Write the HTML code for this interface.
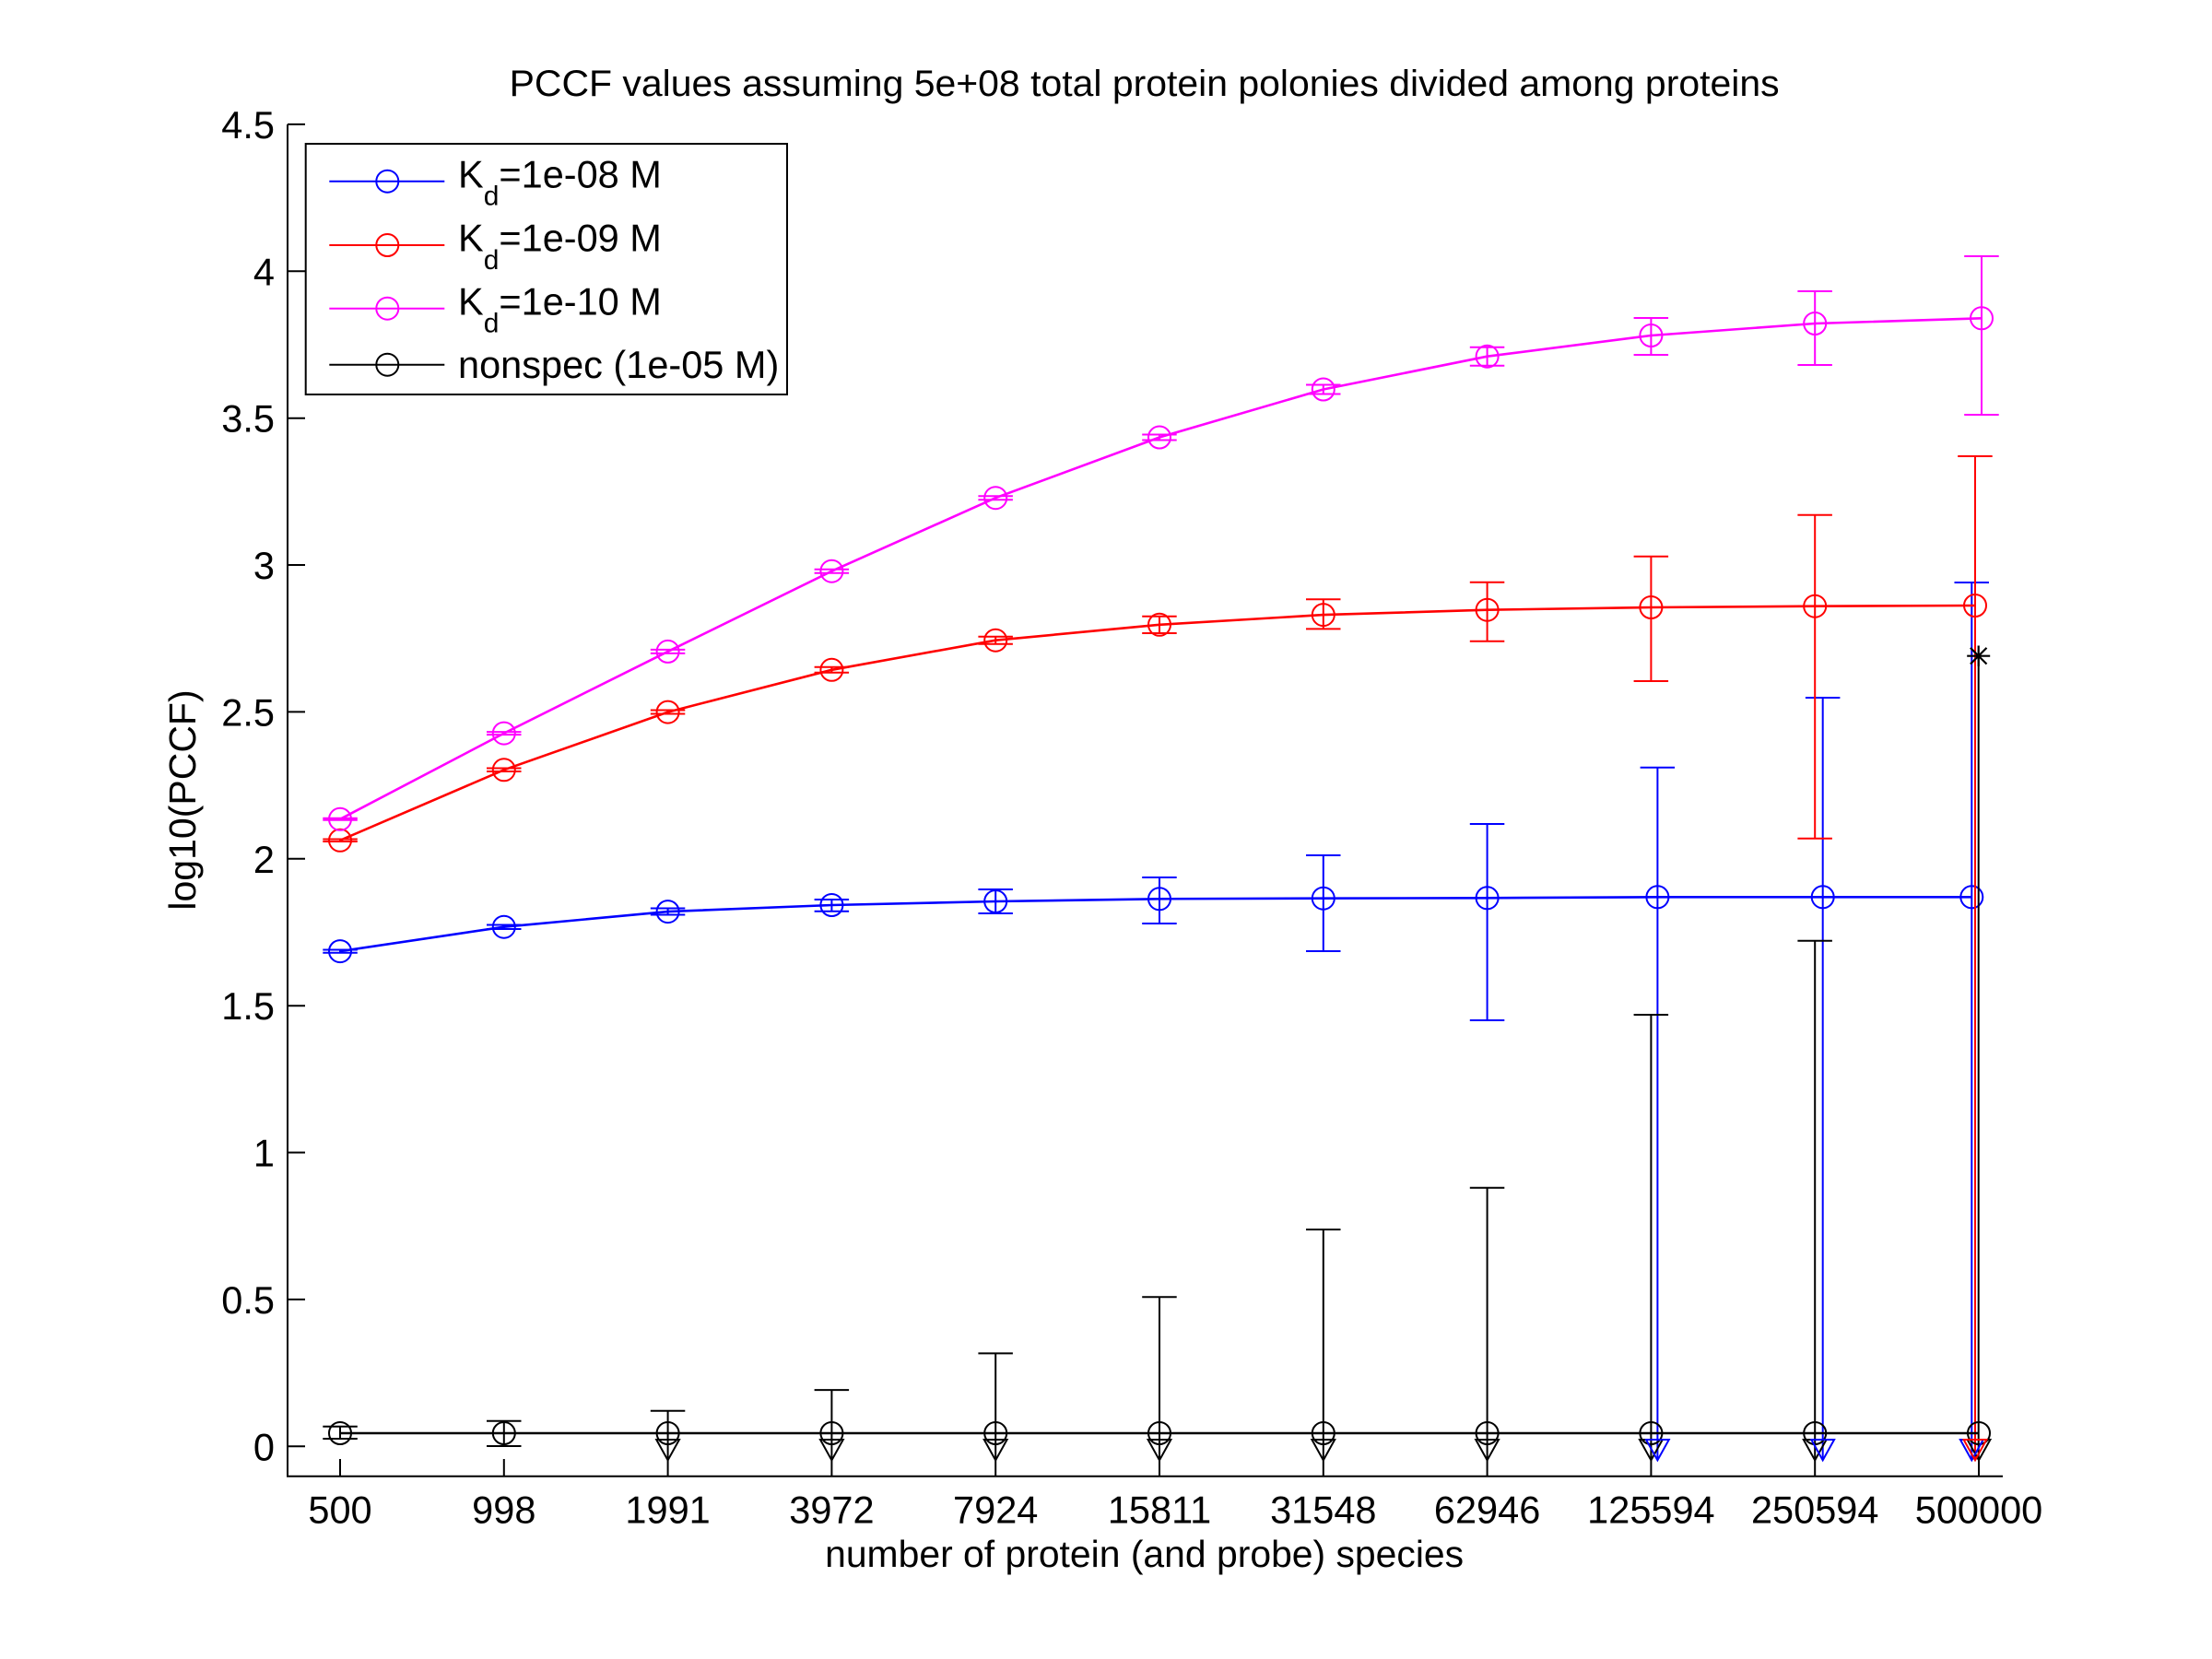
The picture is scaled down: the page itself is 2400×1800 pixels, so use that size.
<!DOCTYPE html>
<html>
<head>
<meta charset="utf-8">
<style>
html,body{margin:0;padding:0;background:#fff;}
svg{display:block;}
text{font-family:"Liberation Sans",Arial,Helvetica,sans-serif;fill:#000;}
</style>
</head>
<body>
<svg width="2400" height="1800" viewBox="0 0 2400 1800" xmlns="http://www.w3.org/2000/svg">
<rect x="0" y="0" width="2400" height="1800" fill="#fff"/>

<!-- Title -->
<text x="1241.6" y="104" font-size="40" text-anchor="middle" textLength="1378" lengthAdjust="spacingAndGlyphs">PCCF values assuming 5e+08 total protein polonies divided among proteins</text>

<!-- Axes -->
<path d="M312,134.9V1601.7H2173" fill="none" stroke="#000" stroke-width="2"/>
<!-- Y ticks -->
<path d="M312,1569.3H331M312,1409.9H331M312,1250.5H331M312,1091.2H331M312,931.8H331M312,772.4H331M312,613H331M312,453.7H331M312,294.3H331M312,134.9H331" stroke="#000" stroke-width="2" fill="none"/>
<!-- X ticks -->
<path d="M369,1601.7V1583M546.8,1601.7V1583M724.6,1601.7V1583M902.4,1601.7V1583M1080.2,1601.7V1583M1258,1601.7V1583M1435.8,1601.7V1583M1613.6,1601.7V1583M1791.4,1601.7V1583M1969.2,1601.7V1583M2147,1601.7V1583" stroke="#000" stroke-width="2" fill="none"/>

<!-- Y tick labels -->
<g font-size="41.5" text-anchor="end">
<text x="298" y="1584.3">0</text>
<text x="298" y="1424.9">0.5</text>
<text x="298" y="1265.5">1</text>
<text x="298" y="1106.2">1.5</text>
<text x="298" y="946.8">2</text>
<text x="298" y="787.4">2.5</text>
<text x="298" y="628">3</text>
<text x="298" y="468.7">3.5</text>
<text x="298" y="309.3">4</text>
<text x="298" y="149.9">4.5</text>
</g>
<!-- X tick labels -->
<g font-size="41.5" text-anchor="middle">
<text x="369" y="1652.5">500</text>
<text x="546.8" y="1652.5">998</text>
<text x="724.6" y="1652.5">1991</text>
<text x="902.4" y="1652.5">3972</text>
<text x="1080.2" y="1652.5">7924</text>
<text x="1258" y="1652.5">15811</text>
<text x="1435.8" y="1652.5">31548</text>
<text x="1613.6" y="1652.5">62946</text>
<text x="1791.4" y="1652.5">125594</text>
<text x="1969.2" y="1652.5">250594</text>
<text x="2147" y="1652.5">500000</text>
</g>

<!-- Axis labels -->
<text x="1241.6" y="1700" font-size="41" text-anchor="middle" textLength="693" lengthAdjust="spacingAndGlyphs">number of protein (and probe) species</text>
<text transform="translate(212,868) rotate(-90)" font-size="41" text-anchor="middle">log10(PCCF)</text>

<!-- Blue series Kd=1e-08 -->
<g stroke="#0000ff" fill="none">
<polyline stroke-width="2.6" points="369,1032.1 546.8,1005.7 724.6,989.1 902.4,982 1080.2,978 1258,975.3 1435.8,974.7 1613.6,974.3 1798.4,973.3 1977.7,973.3 2139.3,973.3"/>
<path stroke-width="2" d="M369,1030.5V1033.7M350.3,1030.5H387.8M350.3,1033.7H387.8
M546.8,1003.5V1008M528,1003.5H565.5M528,1008H565.5
M724.6,985.5V992.5M705.8,985.5H743.3M705.8,992.5H743.3
M902.4,976V988.7M883.6,976H921.1M883.6,988.7H921.1
M1080.2,965V991M1061.4,965H1098.9M1061.4,991H1098.9
M1258,952V1002M1239.2,952H1276.7M1239.2,1002H1276.7
M1435.8,928V1032M1417,928H1454.5M1417,1032H1454.5
M1613.6,894V1107M1594.8,894H1632.3M1594.8,1107H1632.3
M1798.4,832.7V1584M1779.6,832.7H1817.1
M1977.7,757V1584M1958.9,757H1996.4
M2139.3,632V1584M2120.5,632H2158"/>
<g stroke-width="2">
<circle cx="369" cy="1032.1" r="12"/><circle cx="546.8" cy="1005.7" r="12"/><circle cx="724.6" cy="989.1" r="12"/><circle cx="902.4" cy="982" r="12"/><circle cx="1080.2" cy="978" r="12"/><circle cx="1258" cy="975.3" r="12"/><circle cx="1435.8" cy="974.7" r="12"/><circle cx="1613.6" cy="974.3" r="12"/><circle cx="1798.4" cy="973.3" r="12"/><circle cx="1977.7" cy="973.3" r="12"/><circle cx="2139.3" cy="973.3" r="12"/>
</g>
</g>

<!-- Red series Kd=1e-09 -->
<g stroke="#ff0000" fill="none">
<polyline stroke-width="2.6" points="369,911.8 546.8,835.3 724.6,772.6 902.4,726.8 1080.2,694.7 1258,677.8 1435.8,667.1 1613.6,661.7 1791.4,659 1969.2,657.7 2143,657"/>
<path stroke-width="2" d="M369,910.5V913M350.3,910.5H387.8M350.3,913H387.8
M546.8,833.5V837M528,833.5H565.5M528,837H565.5
M724.6,770.5V774.5M705.8,770.5H743.3M705.8,774.5H743.3
M902.4,723.8V729.8M883.6,723.8H921.1M883.6,729.8H921.1
M1080.2,690.7V698.7M1061.4,690.7H1098.9M1061.4,698.7H1098.9
M1258,668.7V687M1239.2,668.7H1276.7M1239.2,687H1276.7
M1435.8,650.3V682.4M1417,650.3H1454.5M1417,682.4H1454.5
M1613.6,631.7V695.7M1594.8,631.7H1632.3M1594.8,695.7H1632.3
M1791.4,603.7V739M1772.6,603.7H1810.1M1772.6,739H1810.1
M1969.2,558.7V909.7M1950.4,558.7H1987.9M1950.4,909.7H1987.9
M2143,495V1584M2124.2,495H2161.7"/>
<g stroke-width="2">
<circle cx="369" cy="911.8" r="12"/><circle cx="546.8" cy="835.3" r="12"/><circle cx="724.6" cy="772.6" r="12"/><circle cx="902.4" cy="726.8" r="12"/><circle cx="1080.2" cy="694.7" r="12"/><circle cx="1258" cy="677.8" r="12"/><circle cx="1435.8" cy="667.1" r="12"/><circle cx="1613.6" cy="661.7" r="12"/><circle cx="1791.4" cy="659" r="12"/><circle cx="1969.2" cy="657.7" r="12"/><circle cx="2143" cy="657" r="12"/>
</g>
</g>

<!-- Magenta series Kd=1e-10 -->
<g stroke="#ff00ff" fill="none">
<polyline stroke-width="2.6" points="369,888.8 546.8,795.6 724.6,706.9 902.4,619.7 1080.2,540.2 1258,474.5 1435.8,422.5 1613.6,386.7 1791.4,364 1969.2,351 2150,345.3"/>
<path stroke-width="2" d="M369,887.8V889.8M350.3,887.8H387.8M350.3,889.8H387.8
M546.8,794.1V797.1M528,794.1H565.5M528,797.1H565.5
M724.6,704.9V708.9M705.8,704.9H743.3M705.8,708.9H743.3
M902.4,617.7V621.7M883.6,617.7H921.1M883.6,621.7H921.1
M1080.2,538.2V542.2M1061.4,538.2H1098.9M1061.4,542.2H1098.9
M1258,471.5V477.5M1239.2,471.5H1276.7M1239.2,477.5H1276.7
M1435.8,417.5V427.5M1417,417.5H1454.5M1417,427.5H1454.5
M1613.6,376.7V396.7M1594.8,376.7H1632.3M1594.8,396.7H1632.3
M1791.4,345V385M1772.6,345H1810.1M1772.6,385H1810.1
M1969.2,316V396M1950.4,316H1987.9M1950.4,396H1987.9
M2150,278V450M2131.2,278H2168.7M2131.2,450H2168.7"/>
<g stroke-width="2">
<circle cx="369" cy="888.8" r="12"/><circle cx="546.8" cy="795.6" r="12"/><circle cx="724.6" cy="706.9" r="12"/><circle cx="902.4" cy="619.7" r="12"/><circle cx="1080.2" cy="540.2" r="12"/><circle cx="1258" cy="474.5" r="12"/><circle cx="1435.8" cy="422.5" r="12"/><circle cx="1613.6" cy="386.7" r="12"/><circle cx="1791.4" cy="364" r="12"/><circle cx="1969.2" cy="351" r="12"/><circle cx="2150" cy="345.3" r="12"/>
</g>
</g>

<!-- Black nonspec series -->
<g stroke="#000" fill="none">
<path stroke-width="2.6" d="M369,1555H2147"/>
<path stroke-width="2" d="M369,1547.7V1561M350.3,1547.7H387.8M350.3,1561H387.8
M546.8,1541.7V1569M528,1541.7H565.5M528,1569H565.5
M724.6,1530.7V1584M705.8,1530.7H743.3
M902.4,1508.1V1584M883.6,1508.1H921.1
M1080.2,1468.4V1584M1061.4,1468.4H1098.9
M1258,1407.2V1584M1239.2,1407.2H1276.7
M1435.8,1334V1584M1417,1334H1454.5
M1613.6,1288.7V1584M1594.8,1288.7H1632.3
M1791.4,1101V1584M1772.6,1101H1810.1
M1969.2,1020.7V1584M1950.4,1020.7H1987.9
M2146.7,711.7V1584"/>
<g stroke-width="2">
<circle cx="369" cy="1555" r="12"/><circle cx="546.8" cy="1555" r="12"/><circle cx="724.6" cy="1555" r="12"/><circle cx="902.4" cy="1555" r="12"/><circle cx="1080.2" cy="1555" r="12"/><circle cx="1258" cy="1555" r="12"/><circle cx="1435.8" cy="1555" r="12"/><circle cx="1613.6" cy="1555" r="12"/><circle cx="1791.4" cy="1555" r="12"/><circle cx="1969.2" cy="1555" r="12"/><circle cx="2147" cy="1555" r="12"/>
</g>
<!-- asterisk -->
<path stroke-width="2.2" d="M2134.2,711.7H2159.2M2146.7,700.5V722.9M2137.9,702.9L2155.5,720.5M2137.9,720.5L2155.5,702.9"/>
</g>

<!-- Lower-bound triangles -->
<g fill="none" stroke-width="2">
<g stroke="#000">
<path d="M712.2,1562H737L724.6,1584.3Z"/>
<path d="M890,1562H914.8L902.4,1584.3Z"/>
<path d="M1067.8,1562H1092.6L1080.2,1584.3Z"/>
<path d="M1245.6,1562H1270.4L1258,1584.3Z"/>
<path d="M1423.4,1562H1448.2L1435.8,1584.3Z"/>
<path d="M1601.2,1562H1626L1613.6,1584.3Z"/>
<path d="M1779,1562H1803.8L1791.4,1584.3Z"/>
<path d="M1956.8,1562H1981.6L1969.2,1584.3Z"/>
<path d="M2134.6,1562H2159.4L2147,1584.3Z"/>
</g>
<g stroke="#0000ff">
<path d="M1786,1562H1810.8L1798.4,1584.3Z"/>
<path d="M1965.3,1562H1990.1L1977.7,1584.3Z"/>
<path d="M2126.9,1562H2151.7L2139.3,1584.3Z"/>
</g>
<g stroke="#ff0000">
<path d="M2130.6,1562H2155.4L2143,1584.3Z"/>
</g>
</g>

<!-- Legend -->
<rect x="331.7" y="156" width="522.3" height="272" fill="#fff" stroke="#000" stroke-width="2"/>
<g fill="none" stroke-width="2">
<path d="M357.3,196.7H482.3" stroke="#0000ff"/><circle cx="420.3" cy="196.7" r="12" stroke="#0000ff"/>
<path d="M357.3,266H482.3" stroke="#ff0000"/><circle cx="420.3" cy="266" r="12" stroke="#ff0000"/>
<path d="M357.3,334.7H482.3" stroke="#ff00ff"/><circle cx="420.3" cy="334.7" r="12" stroke="#ff00ff"/>
<path d="M357.3,395.7H482.3" stroke="#000"/><circle cx="420.3" cy="395.7" r="12" stroke="#000"/>
</g>
<g font-size="41.5">
<text x="497" y="203.3">K<tspan font-size="30" dy="19.4">d</tspan><tspan font-size="41.5" dy="-19.4">=1e-08 M</tspan></text>
<text x="497" y="272.6">K<tspan font-size="30" dy="19.4">d</tspan><tspan font-size="41.5" dy="-19.4">=1e-09 M</tspan></text>
<text x="497" y="341.3">K<tspan font-size="30" dy="19.4">d</tspan><tspan font-size="41.5" dy="-19.4">=1e-10 M</tspan></text>
<text x="497" y="410">nonspec (1e-05 M)</text>
</g>
</svg>
</body>
</html>
